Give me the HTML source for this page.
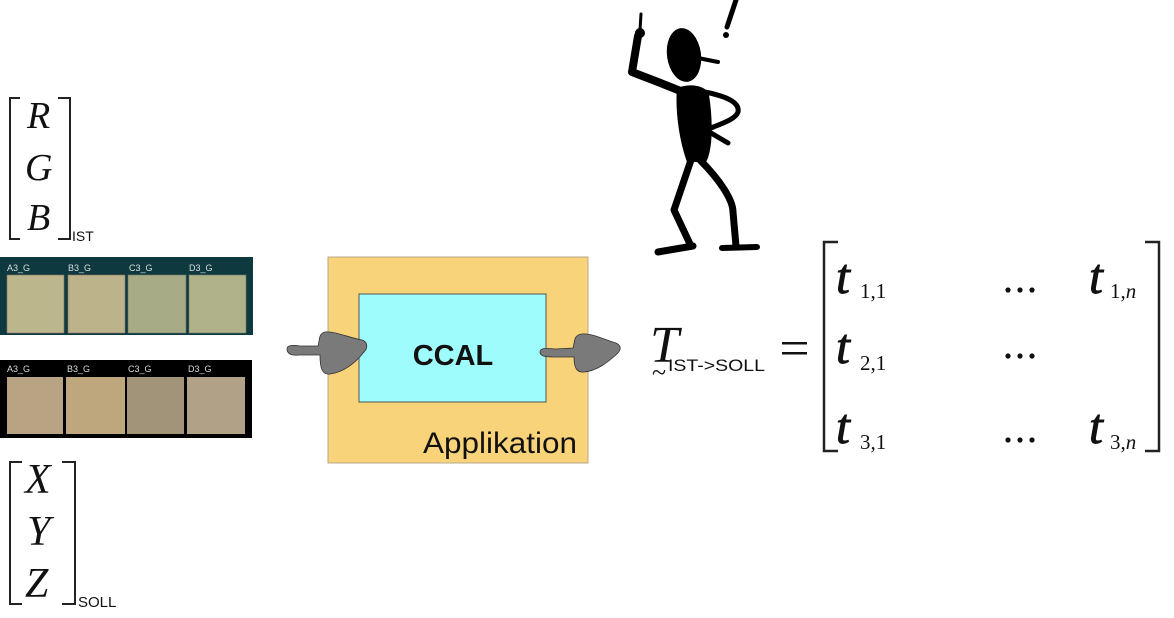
<!DOCTYPE html>
<html>
<head>
<meta charset="utf-8">
<style>
html,body{margin:0;padding:0;background:#fff;}
body{width:1174px;height:618px;overflow:hidden;}
svg{display:block;}
.m{font-family:"Liberation Serif",serif;font-style:italic;fill:#111;}
.t{font-family:"Liberation Serif",serif;font-style:italic;fill:#111;stroke:#111;stroke-width:0.9;}
.s{font-family:"Liberation Serif",serif;fill:#111;}
.a{font-family:"Liberation Sans",sans-serif;fill:#111;}
.lab{font-family:"Liberation Sans",sans-serif;font-size:9px;fill:#d8dede;}
</style>
</head>
<body>
<svg width="1174" height="618" viewBox="0 0 1174 618" xmlns="http://www.w3.org/2000/svg">
<!-- RGB vector -->
<path d="M20,98 H10 V239 H20 M58,98 H70 V239 H58" fill="none" stroke="#222" stroke-width="2"/>
<text class="m" x="27" y="128" font-size="38">R</text>
<text class="m" x="25" y="180" font-size="38">G</text>
<text class="m" x="27" y="230" font-size="38">B</text>
<text class="a" x="72" y="241" font-size="14">IST</text>

<!-- XYZ vector -->
<path d="M22,462 H10 V604 H22 M62,462 H75 V604 H62" fill="none" stroke="#222" stroke-width="2"/>
<text class="m" x="25" y="493" font-size="42">X</text>
<text class="m" x="27" y="545" font-size="42">Y</text>
<text class="m" x="25" y="597" font-size="42">Z</text>
<text class="a" x="78" y="607" font-size="15">SOLL</text>

<!-- swatch panel 1 -->
<rect x="0" y="257" width="253" height="78" fill="#0e3a3f"/>
<text class="lab" x="7" y="271">A3_G</text>
<text class="lab" x="68" y="271">B3_G</text>
<text class="lab" x="129" y="271">C3_G</text>
<text class="lab" x="189" y="271">D3_G</text>
<rect x="7" y="275" width="57" height="58" fill="#bbb68c" stroke="#8c7068" stroke-width="0.6"/>
<rect x="68" y="275" width="57" height="58" fill="#bcb38a" stroke="#8c7068" stroke-width="0.6"/>
<rect x="128" y="275" width="58" height="58" fill="#a7ac87" stroke="#6f7a6a" stroke-width="0.6"/>
<rect x="189" y="275" width="57" height="58" fill="#b0b38a" stroke="#6f7a6a" stroke-width="0.6"/>

<!-- swatch panel 2 -->
<rect x="0" y="360" width="252" height="78" fill="#000"/>
<text class="lab" x="7" y="372">A3_G</text>
<text class="lab" x="67" y="372">B3_G</text>
<text class="lab" x="128" y="372">C3_G</text>
<text class="lab" x="188" y="372">D3_G</text>
<rect x="7" y="377" width="56" height="57" fill="#b8a383"/>
<rect x="66" y="377" width="59" height="57" fill="#bea67d"/>
<rect x="127" y="377" width="57" height="57" fill="#a29478"/>
<rect x="187" y="377" width="58" height="57" fill="#b1a187"/>

<!-- Application box -->
<rect x="328" y="257" width="260" height="206" fill="#f8d379" stroke="#b8a88a" stroke-width="1"/>
<rect x="359" y="294" width="187" height="108" fill="#9ffcfc" stroke="#555" stroke-width="1"/>
<text class="a" x="453" y="365" font-size="29" font-weight="bold" text-anchor="middle">CCAL</text>
<text class="a" x="423" y="453" font-size="30" textLength="154" lengthAdjust="spacingAndGlyphs">Applikation</text>

<!-- arrows -->
<path d="M287,349 C287,345 292,345 300,346 L318,346 C320,340 318,334 325,332 C335,331 350,338 362,340 C368,342 368,348 364,352 C356,362 345,372 330,374 C322,375 320,368 320,355 L300,355 C290,356 287,353 287,349 Z" fill="#7a7a7a" stroke="#333" stroke-width="0.8"/>
<path d="M540,352 C540,348 545,348 555,349 L573,348 C575,342 573,335 582,334 C592,333 605,340 616,343 C622,346 621,350 617,354 C608,362 597,371 584,372 C576,373 574,366 574,357 L555,357 C544,357 540,356 540,352 Z" fill="#7a7a7a" stroke="#333" stroke-width="0.8"/>

<!-- stick figure -->
<g fill="#000" stroke="#000" stroke-linecap="round" stroke-linejoin="round">
  <path d="M736,0 L727,27" stroke-width="5" fill="none"/>
  <circle cx="726" cy="35" r="3" stroke="none"/>
  <ellipse cx="684" cy="55" rx="17" ry="27" transform="rotate(-8 684 55)" stroke="none"/>
  <path d="M698,58 L718,62" stroke-width="4" fill="none"/>
  <path d="M683,92 L658,82 L632,72 L638,36" stroke-width="8" fill="none"/>
  <circle cx="640" cy="33" r="5" stroke="none"/>
  <path d="M640,30 L641,14" stroke-width="3" fill="none"/>
  <path d="M677,88 C690,83 706,85 709,95 C713,120 713,150 706,162 L687,162 C679,140 675,110 677,88 Z" stroke="none"/>
  <path d="M705,92 C725,96 740,102 738,112 C735,120 720,124 711,128" stroke-width="5" fill="none"/>
  <path d="M711,133 L728,143" stroke-width="5" fill="none"/>
  <path d="M691,160 L674,210 L690,244" stroke-width="7" fill="none"/>
  <path d="M658,252 L693,246" stroke-width="7" fill="none"/>
  <path d="M700,160 C720,180 733,200 733,212 L736,246" stroke-width="7" fill="none"/>
  <path d="M722,248 L757,247" stroke-width="6" fill="none"/>
</g>

<!-- matrix equation -->
<text class="m" x="650" y="362" font-size="52">T</text>
<text class="s" x="652" y="381" font-size="26">~</text>
<text class="a" x="668" y="371" font-size="17" textLength="97" lengthAdjust="spacingAndGlyphs">IST-&gt;SOLL</text>
<rect x="782" y="342" width="25" height="2.5" fill="#111"/>
<rect x="782" y="352" width="25" height="2.5" fill="#111"/>
<path d="M838,242 H824 V451 H838 M1145,242 H1159 V451 H1145" fill="none" stroke="#222" stroke-width="2.5"/>

<text class="t" x="836" y="293" font-size="50">t</text>
<text class="s" x="860" y="298" font-size="21">1,1</text>
<text class="t" x="836" y="363" font-size="50">t</text>
<text class="s" x="860" y="370" font-size="21">2,1</text>
<text class="t" x="836" y="443" font-size="50">t</text>
<text class="s" x="860" y="449" font-size="21">3,1</text>

<g fill="#111">
  <circle cx="1008" cy="290" r="2.6"/><circle cx="1020" cy="290" r="2.6"/><circle cx="1032" cy="290" r="2.6"/>
  <circle cx="1008" cy="356" r="2.6"/><circle cx="1020" cy="356" r="2.6"/><circle cx="1032" cy="356" r="2.6"/>
  <circle cx="1008" cy="440" r="2.6"/><circle cx="1020" cy="440" r="2.6"/><circle cx="1032" cy="440" r="2.6"/>
</g>

<text class="t" x="1089" y="293" font-size="50">t</text>
<text class="s" x="1110" y="298" font-size="21">1,<tspan font-style="italic">n</tspan></text>
<text class="t" x="1089" y="443" font-size="50">t</text>
<text class="s" x="1110" y="449" font-size="21">3,<tspan font-style="italic">n</tspan></text>
</svg>
</body>
</html>
